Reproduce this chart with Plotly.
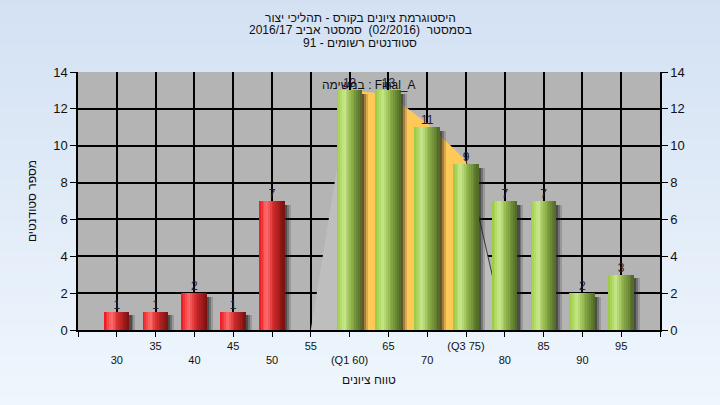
import plotly.graph_objects as go

# ---------------- data ----------------
categories = [30, 35, 40, 45, 50, 55, 60, 65, 70, 75, 80, 85, 90, 95]
counts = [1, 1, 2, 1, 7, 0, 13, 13, 11, 9, 7, 7, 2, 3]
passing = [False, False, False, False, False, False, True, True, True, True, True, True, True, True]
tick_vals = [25, 30, 35, 40, 45, 50, 55, 60, 65, 70, 75, 80, 85, 90, 95, 100]
tick_text_row1 = ["", "", "35", "", "45", "", "55", "", "65", "", "(Q3 75)", "", "85", "", "95", ""]
tick_text_row2 = ["", "30", "", "40", "", "50", "", "(Q1 60)", "", "70", "", "80", "", "90", "", ""]
curve_x = [55, 60, 65, 70, 75, 80]
curve_y = [0, 13, 12.8, 11.2, 9.2, 0]
q1, q3 = 60, 75
title_lines = ["היסטוגרמת ציונים בקורס - תהליכי יצור",
               "בסמסטר  (02/2016)  סמסטר אביב 2016/17",
               "סטודנטים רשומים - 91"]
task_label = "במשימה : Final_A"
x_title = "טווח ציונים"
y_title = "מספר סטודנטים"

FONT = "Liberation Sans, Arial, sans-serif"
ML, MR, MT, MB = 78, 60, 72, 75
PH = 405 - MT - MB


def lerp_color(stops, t):
    for (t0, c0), (t1, c1) in zip(stops[:-1], stops[1:]):
        if t0 <= t <= t1:
            f = 0 if t1 == t0 else (t - t0) / (t1 - t0)
            return "rgb(%d,%d,%d)" % tuple(round(a + (b - a) * f) for a, b in zip(c0, c1))
    return "rgb(%d,%d,%d)" % stops[-1][1]


red_stops = [(0, (235, 20, 28)), (0.3, (255, 110, 110)), (0.55, (215, 45, 45)), (1, (120, 16, 16))]
green_stops = [(0, (152, 200, 60)), (0.3, (200, 232, 140)), (0.55, (150, 185, 80)), (1, (78, 104, 36))]


def path_from(xs, ys, close=True):
    p = "M %g,0 " % xs[0] if close else ""
    for i, (x, y) in enumerate(zip(xs, ys)):
        p += ("L" if (close or i) else "M") + " %g,%g " % (x, y)
    if close:
        p += "L %g,0 Z" % xs[-1]
    return p


fig = go.Figure()

W = 3.2  # bar width in x units
# shadows
for off, alpha in [(0.8, 0.18), (0.55, 0.3), (0.3, 0.45)]:
    fig.add_trace(go.Bar(x=categories, y=[max(v - 0.2, 0) for v in counts],
                         width=W, offset=-W / 2 + off,
                         marker=dict(color="rgba(30,30,30,%.2f)" % alpha, line=dict(width=0)),
                         hoverinfo="skip", showlegend=False))

# gradient strips for cylinder-like bars
N = 14
for i in range(N):
    t = (i + 0.5) / N
    cols = [lerp_color(green_stops if p else red_stops, t) for p in passing]
    fig.add_trace(go.Bar(x=categories, y=counts, width=W / N + 0.02, offset=-W / 2 + i * W / N,
                         marker=dict(color=cols, line=dict(width=0)),
                         hoverinfo="skip", showlegend=False))

# value labels
fig.add_trace(go.Scatter(x=categories, y=counts, mode="text",
                         text=[str(v) if v > 0 else "" for v in counts],
                         textposition="top center",
                         textfont=dict(family=FONT, size=12, color="#20203a"),
                         hoverinfo="skip", showlegend=False))

# invisible trace on the right axis
fig.add_trace(go.Scatter(x=[categories[0]], y=[0], yaxis="y2", mode="markers",
                         marker=dict(opacity=0), hoverinfo="skip", showlegend=False))

# background gradient
shapes = []
nb = 40
for i in range(nb):
    f = i / (nb - 1)
    c = tuple(round(a + (b - a) * f) for a, b in zip((211, 225, 243), (239, 246, 253)))
    shapes.append(dict(type="rect", xref="paper", yref="paper", x0=-0.2, x1=1.2,
                       y1=1.3 - i * (1.6 / nb), y0=1.3 - (i + 1) * (1.6 / nb) - 0.002,
                       fillcolor="rgb(%d,%d,%d)" % c, line=dict(width=0), layer="below"))
shapes.append(dict(type="rect", xref="paper", yref="paper", x0=0, x1=1, y0=0, y1=1,
                   fillcolor="#b4b4b4", line=dict(width=0), layer="below"))

# distribution area (drawn between gridlines and bars)
shapes.append(dict(type="path", xref="x", yref="y", path=path_from(curve_x, curve_y),
                   fillcolor="#bebebe", line=dict(width=0), layer="between"))
yx = [x for x in curve_x if q1 <= x <= q3]
yy = [y for x, y in zip(curve_x, curve_y) if q1 <= x <= q3]
shapes.append(dict(type="path", xref="x", yref="y", path=path_from(yx, yy),
                   fillcolor="#ffc957", line=dict(width=0), layer="between"))
rx = [x for x in curve_x if x >= q3]
ry = [y for x, y in zip(curve_x, curve_y) if x >= q3]
shapes.append(dict(type="path", xref="x", yref="y", path=path_from(rx, ry, close=False),
                   line=dict(color="#3a3a3a", width=1), layer="between"))

ticktext = []
for a, b in zip(tick_text_row1, tick_text_row2):
    if a:
        ticktext.append(a)
    elif b:
        ticktext.append("&#8203;<br>" + b)
    else:
        ticktext.append("")

annotations = []
for line, py in zip(title_lines, [18, 30.5, 43]):
    annotations.append(dict(text=line, xref="paper", yref="paper", x=(360 - ML) / (720 - ML - MR),
                            y=(405 - MB - py) / PH, showarrow=False,
                            font=dict(family=FONT, size=12, color="#111"),
                            xanchor="center", yanchor="middle"))
annotations.append(dict(text=task_label, xref="x", yref="y", x=62.5, y=13.3, showarrow=False,
                        font=dict(family=FONT, size=12, color="#111"), xanchor="center", yanchor="middle"))

fig.update_layout(
    width=720, height=405,
    margin=dict(l=ML, r=MR, t=MT, b=MB, autoexpand=False),
    paper_bgcolor="#e3edf8",
    plot_bgcolor="rgba(0,0,0,0)",
    barmode="overlay",
    bargap=0,
    shapes=shapes,
    annotations=annotations,
    font=dict(family=FONT, color="#111"),
    xaxis=dict(range=[25, 100], tickmode="array", tickvals=tick_vals, ticktext=ticktext,
               showgrid=True, gridcolor="#000", gridwidth=1.5, zeroline=False, automargin=False,
               showline=True, linecolor="#000", linewidth=1.5,
               ticks="outside", ticklen=5, tickcolor="#000", tickfont=dict(size=11, family=FONT),
               title=dict(text=x_title, font=dict(size=12, family=FONT), standoff=10)),
    yaxis=dict(range=[0, 14], dtick=2, showgrid=True, gridcolor="#000", gridwidth=1.5, zeroline=False,
               showline=True, linecolor="#000", linewidth=1.5, automargin=False,
               ticks="outside", ticklen=6, tickcolor="#000", tickfont=dict(size=13, family=FONT),
               title=dict(text=y_title, font=dict(size=12, family=FONT), standoff=14)),
    yaxis2=dict(range=[0, 14], dtick=2, overlaying="y", side="right", showgrid=False, zeroline=False,
                showline=True, linecolor="#000", linewidth=1.5, automargin=False,
                ticks="outside", ticklen=6, tickcolor="#000", tickfont=dict(size=13, family=FONT)),
)

fig.write_html("out.html", config={"displayModeBar": False},
               post_script="document.body.style.margin='0';document.body.style.overflow='hidden';")
